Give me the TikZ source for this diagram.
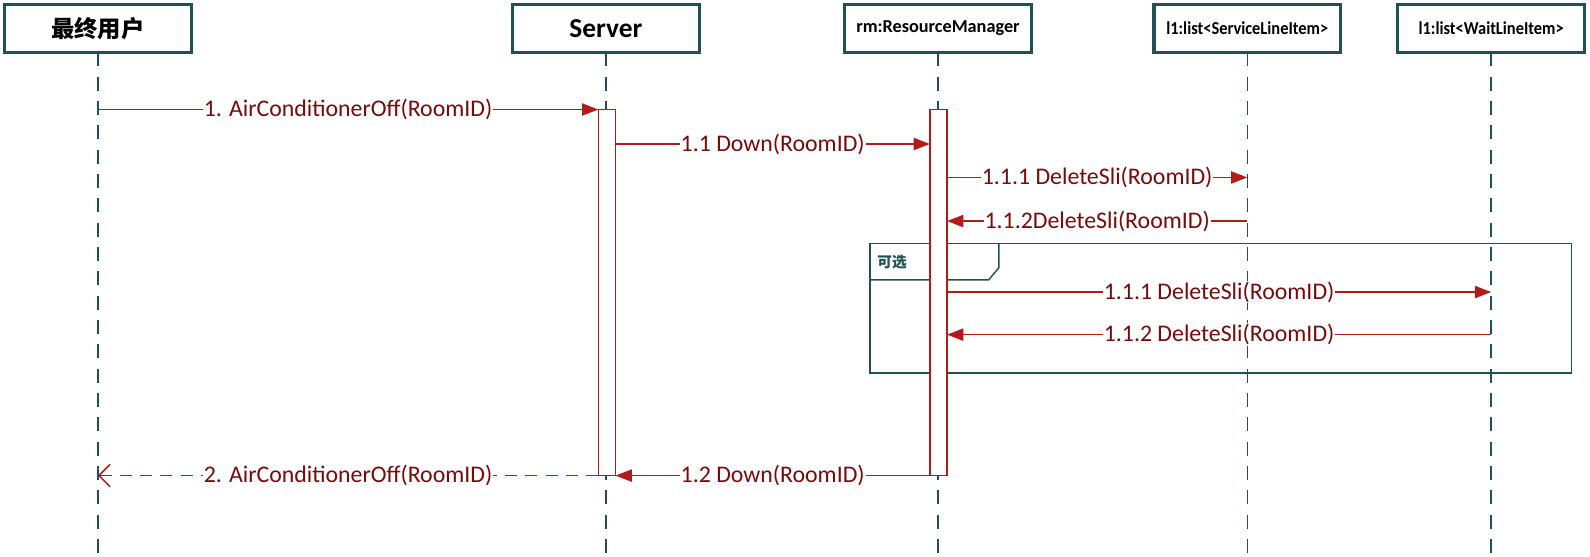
\documentclass[tikz,border=0pt]{standalone}
\usepackage{fontspec}
\setmainfont{Carlito}
\newfontfamily\cjk{Noto Sans CJK SC}
\usetikzlibrary{arrows.meta}
\definecolor{lineteal}{HTML}{1F5252}
\definecolor{msgred}{HTML}{B31B1B}
\definecolor{msgtext}{HTML}{7A0A0A}
\begin{document}
\begin{tikzpicture}[x=1pt,y=-1pt,
 head/.style={draw=lineteal, line width=3.2pt, fill=white, minimum width=184pt, minimum height=47pt, font=\bfseries, text=black, inner sep=0pt, outer sep=0pt},
 life/.style={draw=lineteal, line width=1.4pt, dash pattern=on 14pt off 10pt},
 act/.style={draw=msgred, line width=1.4pt, fill=white, minimum width=17pt, minimum height=361pt, inner sep=0pt, outer sep=0pt, anchor=north},
 msg/.style={draw=msgred, line width=1.6pt, -{Triangle[length=16pt,width=12pt]}},
 ret/.style={draw=msgred, line width=1.5pt, dash pattern=on 12pt off 8pt, -{Straight Barb[length=11pt,width=22pt,line width=1.5pt]}},
 lbl/.style={fill=white, text=msgtext, inner sep=1pt, font=\fontsize{23.5}{26}\selectfont},
 frag/.style={draw=lineteal, line width=1.4pt}
]
\useasboundingbox (0,0) rectangle (1568,549);
% heads
\node[head] (h1) at (96.5,28) {\fontsize{23}{26}\selectfont\cjk\bfseries 最终用户};
\node[head] (h2) at (597.5,28) {\fontsize{27}{30}\selectfont Server};
\node[head] (h3) at (925,28) {\fontsize{18}{20}\selectfont rm:ResourceManager};
\node[head] (h4) at (1230,28) {\scalebox{0.9}[1]{\fontsize{18}{20}\selectfont l1:list<ServiceLineItem>}};
\node[head] (h5) at (1470.5,28) {\scalebox{0.9}[1]{\fontsize{18}{20}\selectfont l1:list<WaitLineItem>}};
% lifeline ends
\coordinate (e1) at (96.5,549);
\coordinate (e2) at (597.5,549);
\coordinate (e3) at (925,549);
\coordinate (e4) at (1230,549);
\coordinate (e5) at (1470.5,549);
\draw[life] (h1.south) -- (e1);
\draw[life] (h2.south) -- (e2);
\draw[life] (h3.south) -- (e3);
\draw[life] (h4.south) -- (e4);
\draw[life] (h5.south) -- (e5);
% fragment
\draw[frag] (858,240) rectangle (1550,368);
\draw[frag] (858,276) -- (975,276) -- (985,264) -- (985,240);
\node[font=\fontsize{14.5}{16}\selectfont\cjk\bfseries, text=lineteal, anchor=west, inner sep=0pt] (opt) at (865,258) {可选};
% activation bars
\node[act] (aS) at (598.5,108) {};
\node[act] (aR) at (925.5,108) {};
% message points
\coordinate (p1) at (96.5,108);
\coordinate (y2) at (0,142);
\coordinate (y3) at (0,175);
\coordinate (y4) at (0,218);
\coordinate (y6) at (0,288);
\coordinate (y7) at (0,330);
\coordinate (y8) at (0,469);
\draw[msg] (p1) -- node[lbl] {1. AirConditionerOff(RoomID)} (aS.north west);
\draw[msg] (aS.east |- y2) -- node[lbl] {1.1 Down(RoomID)} (aR.west |- y2);
\draw[msg] (aR.east |- y3) -- node[lbl] {1.1.1 DeleteSli(RoomID)} (h4.south |- y3);
\draw[msg] (h4.south |- y4) -- node[lbl] {1.1.2DeleteSli(RoomID)} (aR.east |- y4);
\draw[msg] (aR.east |- y6) -- node[lbl] {1.1.1 DeleteSli(RoomID)} (h5.south |- y6);
\draw[msg] (h5.south |- y7) -- node[lbl] {1.1.2 DeleteSli(RoomID)} (aR.east |- y7);
\draw[msg] (aR.south west) -- node[lbl] {1.2 Down(RoomID)} (aS.south east);
\draw[ret] (aS.south west) -- node[lbl] {2. AirConditionerOff(RoomID)} (h1.south |- y8);
\end{tikzpicture}
\end{document}
